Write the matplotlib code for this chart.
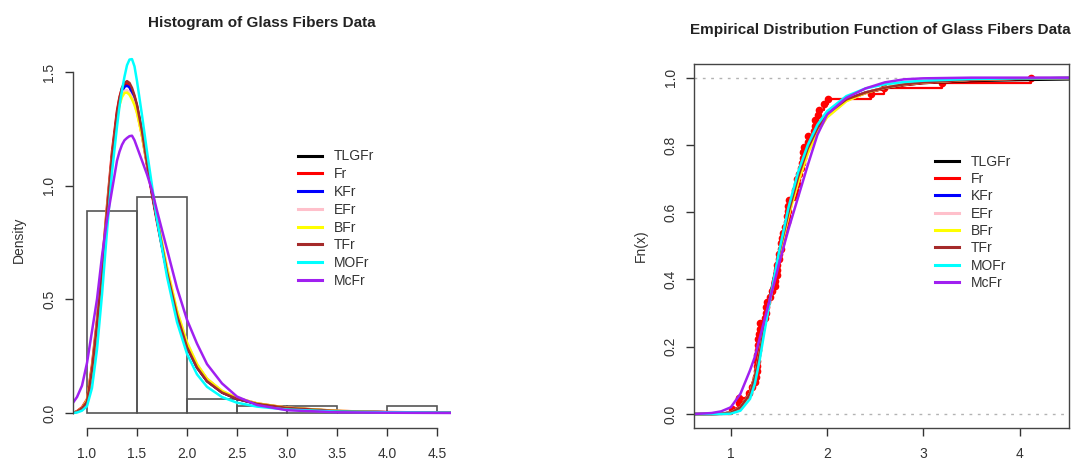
import numpy as np
import matplotlib
matplotlib.use("Agg")
import matplotlib.pyplot as plt
from matplotlib.lines import Line2D

plt.rcParams["font.family"] = ["Liberation Sans", "DejaVu Sans"]

# Glass fibre strengths (63 observations)
fibers = [1.014, 1.081, 1.082, 1.185, 1.223, 1.248, 1.267, 1.271, 1.272, 1.275,
          1.276, 1.278, 1.286, 1.288, 1.292, 1.304, 1.306, 1.355, 1.361, 1.364,
          1.379, 1.409, 1.426, 1.459, 1.460, 1.476, 1.481, 1.484, 1.501, 1.506,
          1.524, 1.526, 1.535, 1.541, 1.568, 1.579, 1.581, 1.591, 1.593, 1.602,
          1.666, 1.670, 1.684, 1.691, 1.704, 1.731, 1.735, 1.747, 1.748, 1.757,
          1.800, 1.806, 1.867, 1.876, 1.878, 1.910, 1.916, 1.972, 2.012, 2.456,
          2.592, 3.197, 4.121]
hist_breaks = [1.0, 1.5, 2.0, 2.5, 3.0, 3.5, 4.0, 4.5]

model_names = ["TLGFr", "Fr", "KFr", "EFr", "BFr", "TFr", "MOFr", "McFr"]

# fitted densities
pdf_x = [0.86, 0.90, 0.95, 1.00, 1.05, 1.10, 1.15, 1.20, 1.25, 1.30, 1.325, 1.35, 1.375, 1.40,
         1.425, 1.45, 1.475, 1.50, 1.55, 1.60, 1.65, 1.70, 1.80, 1.90, 2.00, 2.10, 2.20, 2.35,
         2.50, 2.70, 3.00, 3.50, 4.00, 4.64]
pdf_tlgfr = [0.0, 0.006, 0.02, 0.05, 0.18, 0.38, 0.62, 0.88, 1.12, 1.31, 1.375, 1.42, 1.443, 1.45,
             1.443, 1.42, 1.39, 1.35, 1.24, 1.10, 0.97, 0.85, 0.62, 0.43, 0.29, 0.20, 0.14, 0.09,
             0.062, 0.04, 0.022, 0.008, 0.003, 0.001]
pdf_fr = [0.0, 0.008, 0.025, 0.06, 0.21, 0.41, 0.65, 0.91, 1.15, 1.33, 1.39, 1.43, 1.45, 1.45,
          1.435, 1.41, 1.375, 1.33, 1.22, 1.09, 0.96, 0.84, 0.62, 0.43, 0.30, 0.21, 0.15, 0.095,
          0.065, 0.042, 0.023, 0.009, 0.004, 0.001]
pdf_kfr = [0.0, 0.005, 0.018, 0.05, 0.18, 0.38, 0.62, 0.88, 1.12, 1.30, 1.365, 1.41, 1.435, 1.44,
           1.433, 1.41, 1.38, 1.34, 1.23, 1.10, 0.97, 0.85, 0.62, 0.43, 0.29, 0.20, 0.14, 0.09,
           0.062, 0.04, 0.022, 0.008, 0.003, 0.001]
pdf_efr = [0.0, 0.006, 0.02, 0.055, 0.19, 0.39, 0.63, 0.89, 1.12, 1.30, 1.36, 1.40, 1.418, 1.42,
           1.41, 1.39, 1.36, 1.32, 1.22, 1.10, 0.98, 0.86, 0.64, 0.45, 0.31, 0.215, 0.15, 0.097,
           0.066, 0.042, 0.023, 0.009, 0.003, 0.001]
pdf_bfr = [0.0, 0.006, 0.02, 0.055, 0.19, 0.39, 0.63, 0.89, 1.12, 1.30, 1.355, 1.39, 1.408, 1.41,
           1.40, 1.38, 1.355, 1.32, 1.22, 1.10, 0.98, 0.86, 0.64, 0.45, 0.31, 0.215, 0.15, 0.097,
           0.066, 0.042, 0.023, 0.009, 0.003, 0.001]
pdf_tfr = [0.0, 0.006, 0.02, 0.05, 0.19, 0.39, 0.63, 0.89, 1.13, 1.32, 1.385, 1.43, 1.452, 1.46,
           1.452, 1.43, 1.397, 1.355, 1.24, 1.10, 0.97, 0.85, 0.62, 0.43, 0.29, 0.20, 0.14, 0.09,
           0.062, 0.04, 0.022, 0.008, 0.003, 0.001]
pdf_mofr = [0.0, 0.002, 0.01, 0.03, 0.11, 0.28, 0.52, 0.80, 1.06, 1.26, 1.35, 1.42, 1.48, 1.53,
            1.555, 1.557, 1.525, 1.46, 1.31, 1.15, 1.00, 0.85, 0.60, 0.40, 0.26, 0.17, 0.115, 0.07,
            0.045, 0.028, 0.015, 0.006, 0.003, 0.001]
pdf_mcfr = [0.045, 0.07, 0.12, 0.22, 0.36, 0.50, 0.69, 0.85, 0.98, 1.11, 1.15, 1.18, 1.20, 1.21,
            1.218, 1.22, 1.20, 1.17, 1.11, 1.05, 0.98, 0.89, 0.72, 0.55, 0.41, 0.305, 0.215, 0.13,
            0.072, 0.035, 0.012, 0.003, 0.001, 0.0]

# fitted cdfs
cdf_x = [0.62, 0.80, 0.90, 1.00, 1.10, 1.20, 1.25, 1.30, 1.35, 1.40, 1.45, 1.50, 1.60,
         1.70, 1.80, 1.90, 2.00, 2.20, 2.40, 2.60, 2.80, 3.00, 3.50, 4.00, 4.52]
cdf_tlgfr = [0.0, 0.0, 0.001, 0.004, 0.02, 0.06, 0.11, 0.18, 0.26, 0.335, 0.405, 0.475, 0.60,
             0.705, 0.79, 0.85, 0.89, 0.934, 0.955, 0.968, 0.978, 0.984, 0.990, 0.993, 0.995]
cdf_fr = [0.0, 0.0, 0.001, 0.005, 0.024, 0.066, 0.116, 0.186, 0.265, 0.34, 0.41, 0.48, 0.603,
          0.707, 0.79, 0.85, 0.89, 0.932, 0.954, 0.968, 0.978, 0.984, 0.992, 0.996, 0.998]
cdf_kfr = [0.0, 0.0, 0.001, 0.004, 0.02, 0.06, 0.11, 0.18, 0.26, 0.335, 0.405, 0.475, 0.60,
           0.705, 0.79, 0.85, 0.892, 0.935, 0.956, 0.970, 0.980, 0.986, 0.994, 0.997, 0.999]
cdf_efr = [0.0, 0.0, 0.001, 0.004, 0.02, 0.06, 0.11, 0.18, 0.258, 0.332, 0.40, 0.468, 0.59,
           0.69, 0.775, 0.838, 0.882, 0.93, 0.955, 0.97, 0.98, 0.986, 0.994, 0.997, 0.999]
cdf_bfr = [0.0, 0.0, 0.001, 0.004, 0.02, 0.06, 0.11, 0.18, 0.258, 0.332, 0.40, 0.468, 0.59,
           0.69, 0.775, 0.838, 0.882, 0.93, 0.955, 0.97, 0.98, 0.986, 0.994, 0.997, 0.999]
cdf_tfr = [0.0, 0.0, 0.001, 0.004, 0.02, 0.06, 0.11, 0.18, 0.26, 0.335, 0.405, 0.475, 0.60,
           0.705, 0.79, 0.85, 0.892, 0.935, 0.956, 0.970, 0.980, 0.986, 0.994, 0.997, 0.999]
cdf_mofr = [0.0, 0.0, 0.0, 0.001, 0.01, 0.045, 0.09, 0.16, 0.245, 0.325, 0.405, 0.48, 0.615,
            0.72, 0.80, 0.86, 0.90, 0.945, 0.968, 0.98, 0.987, 0.991, 0.996, 0.998, 0.999]
cdf_mcfr = [0.0, 0.003, 0.008, 0.02, 0.06, 0.13, 0.17, 0.225, 0.28, 0.335, 0.388, 0.445, 0.55,
            0.645, 0.74, 0.83, 0.89, 0.94, 0.968, 0.986, 0.995, 0.998, 1.0, 1.0, 1.0]

pdf_curves = [pdf_tlgfr, pdf_fr, pdf_kfr, pdf_efr, pdf_bfr, pdf_tfr, pdf_mofr, pdf_mcfr]
cdf_curves = [cdf_tlgfr, cdf_fr, cdf_kfr, cdf_efr, cdf_bfr, cdf_tfr, cdf_mofr, cdf_mcfr]

# R colour names
colors = ["#000000", "#FF0000", "#0000FF", "#FFC0CB", "#FFFF00", "#A52A2A", "#00FFFF", "#A020F0"]
ink = "#333333"
W, H = 1071, 461

fig = plt.figure(figsize=(W / 100, H / 100), dpi=100)


def style_ticks(ax):
    ax.tick_params(direction="out", length=6, width=1, color=ink, labelcolor=ink, labelsize=10)
    ax.tick_params(axis="x", pad=8)
    ax.tick_params(axis="y", pad=6)
    for lbl in ax.get_yticklabels():
        lbl.set_rotation(90)
        lbl.set_va("center")
    for sp in ax.spines.values():
        sp.set_color("#444444")
        sp.set_linewidth(1.0)


# ---- left: histogram + densities
ax1 = fig.add_axes([73 / W, 1 - 427.5 / H, 378 / W, (427.5 - 34.8) / H])
ax1.hist(fibers, bins=hist_breaks, density=True, fill=False, edgecolor="#555555", linewidth=1.2)
for name, col, ys in zip(model_names, colors, pdf_curves):
    ax1.plot(pdf_x, ys, color=col, lw=1.8, label=name)
ax1.set_xlim(0.86, 4.64)
ax1.set_ylim(-0.064, 1.664)
ax1.spines["top"].set_visible(False)
ax1.spines["right"].set_visible(False)
ax1.spines["left"].set_bounds(0, 1.5)
ax1.spines["bottom"].set_bounds(1, 4.5)
ax1.set_xticks(hist_breaks)
ax1.set_xticklabels([f"{b:.1f}" for b in hist_breaks])
ax1.set_yticks([0, 0.5, 1.0, 1.5])
ax1.set_yticklabels(["0.0", "0.5", "1.0", "1.5"])
style_ticks(ax1)
ax1.set_ylabel("Density", fontsize=10, color=ink)
ax1.yaxis.set_label_coords(-0.124, 0.477)

# ---- right: ecdf + fitted cdfs
ax2 = fig.add_axes([694.3 / W, 1 - 427.5 / H, 374.7 / W, (427.5 - 64.2) / H])
xlo, xhi = 0.621, 4.514
xs = np.sort(fibers)
fn = np.arange(1, len(xs) + 1) / len(xs)
ax2.axhline(0, color="#B3B3B3", lw=1, ls=(0, (2, 4)))
ax2.axhline(1, color="#B3B3B3", lw=1, ls=(0, (2, 4)))
ax2.step(np.r_[xlo, xs, xhi], np.r_[0, fn, 1], where="post", color="#FF0000", lw=1.6)
ax2.plot(xs, fn, "o", color="#FF0000", ms=4.5)
for name, col, ys in zip(model_names, colors, cdf_curves):
    ax2.plot(cdf_x, ys, color=col, lw=1.8, label=name)
ax2.set_xlim(xlo, xhi)
ax2.set_ylim(-0.04, 1.04)
ax2.set_xticks([1, 2, 3, 4])
ax2.set_yticks([0, 0.2, 0.4, 0.6, 0.8, 1.0])
ax2.set_yticklabels(["0.0", "0.2", "0.4", "0.6", "0.8", "1.0"])
style_ticks(ax2)
ax2.set_ylabel("Fn(x)", fontsize=10, color=ink)
ax2.yaxis.set_label_coords(-0.124, 0.5)

# legends (no box, as in R bty="n")
handles = [Line2D([], [], color=c, lw=2.2) for c in colors]
for anchor, gap in [((298 / W, 1 - 149.5 / H), 0.27), ((935 / W, 1 - 154.5 / H), 0.24)]:
    fig.legend(handles, model_names, loc="upper left", bbox_to_anchor=anchor,
               bbox_transform=fig.transFigure, frameon=False, fontsize=10,
               handlelength=1.75, handletextpad=0.8, labelspacing=gap,
               borderpad=0, borderaxespad=0, labelcolor=ink)

fig.text(262 / W, 1 - 23 / H, "Histogram of Glass Fibers Data", ha="center", va="center",
         fontsize=11, fontweight="bold", color="#222222")
fig.text(880 / W, 1 - 30 / H, "Empirical Distribution Function of Glass Fibers Data",
         ha="center", va="center", fontsize=11, fontweight="bold", color="#222222")

fig.savefig("out.png", dpi=100)
